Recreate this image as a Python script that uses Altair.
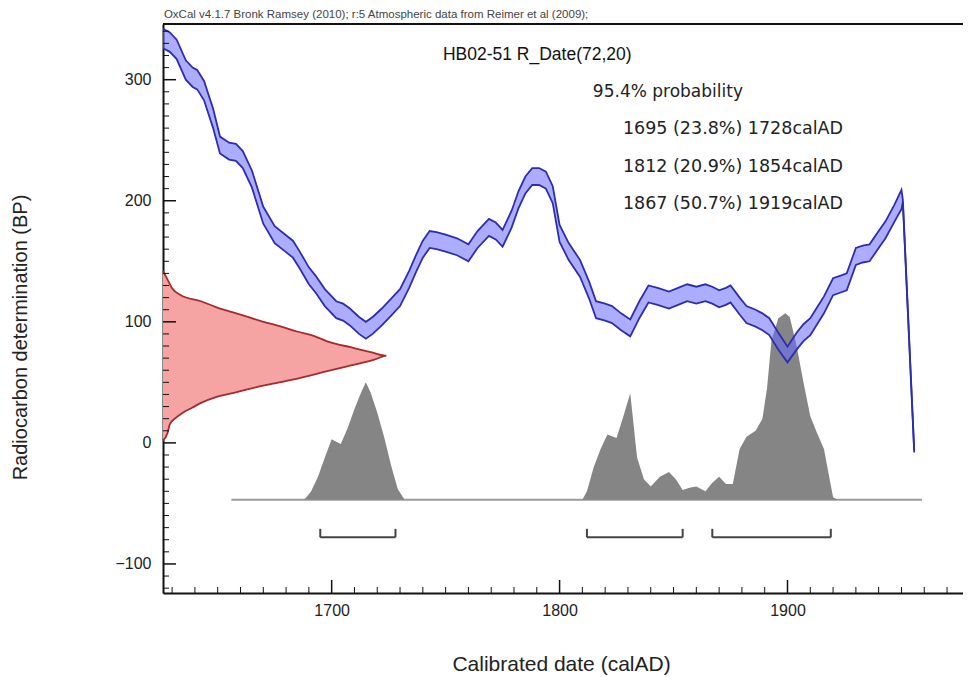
import altair as alt
import pandas as pd

FONT = "Liberation Sans"
FONT_WIDE = "DejaVu Sans"
X_MIN, X_MAX = 1626, 1977
Y_MIN, Y_MAX = -124, 346
W, H = 800, 569

# calibration curve (IntCal09): year, BP centre, 1-sigma half width
curve_year = [1626,1629,1632,1636,1639,1641,1644,1648,1651,1655,
              1658,1661,1665,1670,1675,1679,1683,1686,1690,1693,
              1697,1702,1705,1708,1712,1715,1718,1722,1726,1730,
              1734,1737,1740,1743,1746,1750,1755,1760,1764,1769,
              1772,1775,1779,1782,1785,1788,1791,1794,1797,1800,
              1804,1809,1813,1816,1820,1823,1827,1831,1835,1839,
              1843,1848,1852,1856,1860,1864,1867,1870,1873,1875,
              1879,1882,1886,1889,1892,1896,1900,1904,1907,1910,
              1913,1916,1920,1923,1926,1930,1933,1936,1940,1943,
              1947,1950,1950.6,1955.6]
curve_bp = [334,331,325,308,302,300,291,268,246,241,
            240,234,218,188,172,166,160,151,138,131,
            120,110,108,104,97,93,97,104,112,120,
            135,148,160,168,167,165,162,157,168,178,
            175,169,185,201,213,220,220,217,205,173,
            158,144,126,110,108,106,100,95,110,123,
            121,118,121,124,122,124,122,119,121,123,
            113,106,103,100,96,84,73,84,91,96,
            105,114,129,131,133,154,156,157,168,176,
            190,201,200,-7]
curve_err = [8,8,8,8,8,8,8,8,7,7,
             7,7,7,7,7,7,7,7,7,7,
             7,7,7,7,7,7,7,7,7,7,
             7,7,7,7,7,7,7,7,7,7,
             7,7,7,7,7,7,7,7,7,7,
             7,7,7,7,7,7,7,7,7,7,
             7,7,7,7,7,7,7,7,7,7,
             7,7,7,7,7,7,6.5,7,7,7,
             7,7,7,7,7,7,7,7,7,7,
             7,8,1,1]

# radiocarbon measurement R_Date(72,20): BP vs relative probability
red_bp = [142,135,128,122,117,112,108,104,100,96,92,88,83,79,75,72,
          69,66,63,59,54,50,46,42,38,33,29,25,21,15,8,2]
red_dens = [0,0.02,0.04,0.08,0.17,0.24,0.31,0.38,0.45,0.53,0.6,0.68,0.75,0.84,0.93,1.0,
            0.95,0.89,0.82,0.73,0.62,0.52,0.42,0.33,0.24,0.17,0.13,0.09,0.06,0.03,0.02,0]
RED_SPAN_YEARS = 98

# calibrated probability distribution (top edge in BP units of the plot)
gray_year = [1688,1691,1694,1697,1700,1702,1704,1707,1710,1713,1715,1717,1720,1723,1726,1729,1732,
             1810,1812,1815,1818,1821,1825,1828,1831,1834,1837,
             1840,1844,1848,1851,1854,1857,1860,1864,1867,1870,
             1873,1876,1879,1882,1886,1889,1891,1893,1896,1899,
             1901,1904,1907,1910,1913,1916,1918,1920,1922]
gray_top = [-47,-40,-28,-12,3,1,-1,12,28,42,50,42,25,5,-18,-38,-47,
            -47,-40,-20,-5,7,4,22,41,-12,-30,
            -36,-28,-24,-30,-39,-37,-36,-40,-33,-28,
            -34,-34,-5,5,10,20,45,85,103,107,
            104,80,50,22,8,-5,-25,-45,-47]
GRAY_BASE = -47
base_from, base_to = 1656, 1959

# 95.4% ranges
range_from = [1695, 1812, 1867]
range_to = [1728, 1854, 1919]
range_labels = ["1695 (23.8%) 1728calAD", "1812 (20.9%) 1854calAD", "1867 (50.7%) 1919calAD"]
BRACKET_BP, CAP_BP = -78, -71

x_major = [1700, 1800, 1900]
x_minor = [1630,1640,1650,1660,1670,1680,1690,1710,1720,1730,1740,1750,1760,1770,1780,1790,
           1810,1820,1830,1840,1850,1860,1870,1880,1890,1910,1920,1930,1940,1950,1960,1970]
y_major = [-100, 0, 100, 200, 300]
y_minor = [-120,-110,-90,-80,-70,-60,-50,-40,-30,-20,-10,10,20,30,40,50,60,70,80,90,
           110,120,130,140,150,160,170,180,190,210,220,230,240,250,260,270,280,290,
           310,320,330,340]

header = "OxCal v4.1.7 Bronk Ramsey (2010); r:5 Atmospheric data from Reimer et al (2009);"
title_text = "HB02-51 R_Date(72,20)"
prob_text = "95.4% probability"

# ---------------- data frames
curve = pd.DataFrame({"year": curve_year, "bp": curve_bp, "err": curve_err})
curve["upper"] = curve["bp"] + curve["err"]
curve["lower"] = curve["bp"] - curve["err"]
red = pd.DataFrame({"bp": red_bp, "dens": red_dens}).sort_values("bp")
red["year"] = X_MIN + red["dens"] * RED_SPAN_YEARS
red["year0"] = X_MIN
gray = pd.DataFrame({"year": gray_year, "bp": gray_top})
gray["base"] = GRAY_BASE
baseline = pd.DataFrame({"year": [base_from], "year2": [base_to], "bp": [GRAY_BASE]})
ranges = pd.DataFrame({"year": range_from, "year2": range_to, "bp": BRACKET_BP, "cap": CAP_BP})
caps = pd.DataFrame({"year": range_from + range_to, "bp": BRACKET_BP, "cap": CAP_BP})

xs = alt.Scale(domain=[X_MIN, X_MAX], nice=False, zero=False)
ys = alt.Scale(domain=[Y_MIN, Y_MAX], nice=False, zero=False)

x_axis = alt.Axis(values=x_major, format="d", tickSize=0, grid=False, domainColor="#111", domainWidth=2,
                  labelFontSize=16, labelFont=FONT, labelColor="#222", labelPadding=9,
                  title="Calibrated date (calAD)", titleFont=FONT, titleFontSize=21, titleFontWeight="normal",
                  titleColor="#222", titleX=398, titleY=71, titleBaseline="middle", titleAlign="center")
y_axis = alt.Axis(values=y_major, format="d", tickSize=0, grid=False, domainColor="#111", domainWidth=2,
                  labelFontSize=16, labelFont=FONT, labelColor="#222", labelPadding=12,
                  title="Radiocarbon determination (BP)", titleFont=FONT, titleFontSize=20,
                  titleFontWeight="normal", titleColor="#222", titleAngle=-90, titleX=-143, titleY=313,
                  titleBaseline="middle", titleAlign="center")

X = lambda f="year": alt.X(f"{f}:Q", scale=xs, axis=x_axis)
Y = lambda f="bp": alt.Y(f"{f}:Q", scale=ys, axis=y_axis)

red_area = alt.Chart(red).mark_area(color="#f5a3a3", fillOpacity=1, orient="horizontal",
                                    interpolate="monotone").encode(
    y=Y(), x=X(), x2="year0:Q")
red_line = alt.Chart(red).mark_line(color="#a82a2a", strokeWidth=1.8, orient="horizontal",
                                    interpolate="monotone").encode(
    y=Y(), x=X(), order="bp:Q")

base_rule = alt.Chart(baseline).mark_rule(color="#9a9a9a", strokeWidth=2).encode(
    x=X(), x2="year2:Q", y=Y())
gray_area = alt.Chart(gray).mark_area(color="#858585", opacity=1, clip=True).encode(
    x=X(), y=Y(), y2="base:Q")

band = alt.Chart(curve).mark_area(color="#6a6aff", opacity=0.55, clip=True).encode(
    x=X(), y=Y("upper"), y2="lower:Q")
band_up = alt.Chart(curve).mark_line(color="#2d2db0", strokeWidth=1.8, clip=True).encode(
    x=X(), y=Y("upper"))
band_lo = alt.Chart(curve).mark_line(color="#2d2db0", strokeWidth=1.8, clip=True).encode(
    x=X(), y=Y("lower"))

br_h = alt.Chart(ranges).mark_rule(color="#444", strokeWidth=2).encode(x=X(), x2="year2:Q", y=Y())
br_c = alt.Chart(caps).mark_rule(color="#444", strokeWidth=2).encode(x=X(), y=Y(), y2="cap:Q")

xt_min = alt.Chart(pd.DataFrame({"year": x_minor})).mark_rule(color="#111", strokeWidth=1).encode(
    x=X(), y=alt.value(H), y2=alt.value(H - 6))
xt_maj = alt.Chart(pd.DataFrame({"year": x_major})).mark_rule(color="#111", strokeWidth=1.5).encode(
    x=X(), y=alt.value(H), y2=alt.value(H - 13))
yt_min = alt.Chart(pd.DataFrame({"bp": y_minor})).mark_rule(color="#111", strokeWidth=1).encode(
    y=Y(), x=alt.value(0), x2=alt.value(6))
yt_maj = alt.Chart(pd.DataFrame({"bp": y_major})).mark_rule(color="#111", strokeWidth=1.5).encode(
    y=Y(), x=alt.value(0), x2=alt.value(13))
top_rule = alt.Chart(pd.DataFrame({"bp": [Y_MAX]})).mark_rule(color="#111", strokeWidth=2).encode(
    y=Y(), x=alt.value(0), x2=alt.value(W))

hdr = alt.Chart(pd.DataFrame({"year": [X_MIN + 0.4], "bp": [353.5], "t": [header]})).mark_text(
    font=FONT, fontSize=11.5, color="#444", align="left", baseline="middle").encode(x=X(), y=Y(), text="t:N")
ttl = alt.Chart(pd.DataFrame({"year": [1748.8], "bp": [320.5], "t": [title_text]})).mark_text(
    font=FONT, fontSize=17.5, color="#111", align="left", baseline="middle").encode(x=X(), y=Y(), text="t:N")
prob = alt.Chart(pd.DataFrame({"year": [1814.6], "bp": [290], "t": [prob_text]})).mark_text(
    font=FONT_WIDE, fontSize=17, color="#222", align="left", baseline="middle").encode(x=X(), y=Y(), text="t:N")
rng_txt = alt.Chart(pd.DataFrame({"year": [1827.8] * 3, "bp": [259, 228, 197], "t": range_labels})).mark_text(
    font=FONT_WIDE, fontSize=17.5, color="#222", align="left", baseline="middle").encode(x=X(), y=Y(), text="t:N")

chart = alt.layer(
    red_area, red_line, base_rule, gray_area, band, band_up, band_lo, br_h, br_c,
    xt_min, xt_maj, yt_min, yt_maj, top_rule, hdr, ttl, prob, rng_txt
).properties(
    width=W, height=H,
    padding={"left": 155, "top": 16, "right": 0, "bottom": 84},
    autosize=alt.AutoSizeParams(type="none"),
).configure_view(stroke=None).configure(background="white")

chart.save("out.html", embed_options={"renderer": "svg", "actions": False})
